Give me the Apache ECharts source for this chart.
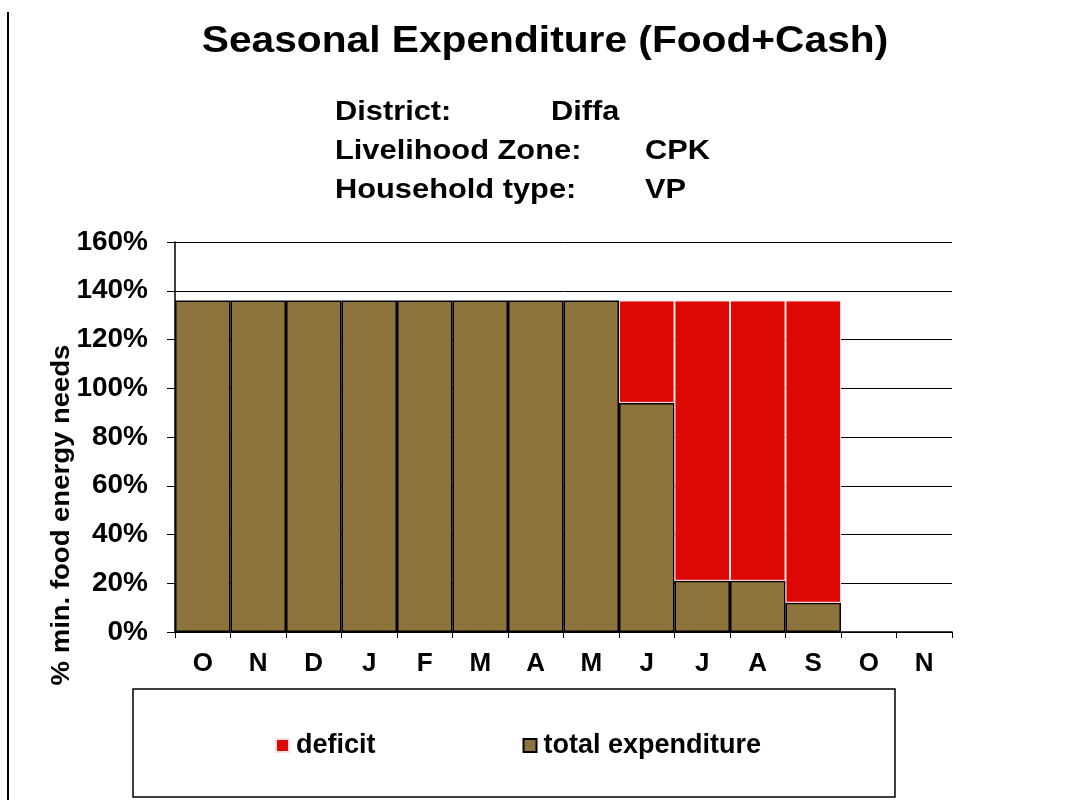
<!DOCTYPE html>
<html>
<head>
<meta charset="utf-8">
<script src="https://cdn.jsdelivr.net/npm/echarts@6/dist/echarts.min.js"></script>
<style>html,body{margin:0;padding:0;background:#fff}#c{width:1070px;height:800px}</style>
</head>
<body>
<div id="c"></div>
<script>
var months = ['O','N','D','J','F','M','A','M','J','J','A','S','O','N'];
var totalExpenditure = [136,136,136,136,136,136,136,136,94,21,21,12,null,null];
var deficit = [null,null,null,null,null,null,null,null,42,115,115,124,null,null];
var yTicks = [0,20,40,60,80,100,120,140,160];

var F = 'Liberation Sans, Arial, sans-serif';
var SX = 1.1;
function txt(x, y, s, size, align) {
  return {type: 'text', x: x, y: y, scaleX: SX, style: {text: s, fill: '#000',
    font: 'bold ' + size + 'px ' + F, textAlign: align || 'left', textVerticalAlign: 'middle'}};
}
var chart = echarts.init(document.getElementById('c'));
chart.setOption({
  backgroundColor: '#fff',
  animation: false,
  grid: {left: 175, right: 118, top: 242, bottom: 168},
  xAxis: {
    type: 'category', data: months,
    axisLine: {lineStyle: {color: '#000', width: 1.5}},
    axisTick: {show: true, length: 6, lineStyle: {color: '#000'}},
    axisLabel: {color: '#000', fontFamily: F, fontWeight: 'bold', fontSize: 26, margin: 19}
  },
  yAxis: {
    type: 'value', min: yTicks[0], max: yTicks[yTicks.length-1], interval: 20,
    axisLine: {show: true, lineStyle: {color: '#000', width: 1.5}},
    axisTick: {show: true, inside: false, length: 8, lineStyle: {color: '#000'}},
    splitLine: {show: true, lineStyle: {color: '#000', width: 1}},
    axisLabel: {color: '#000', fontFamily: F, fontWeight: 'bold', fontSize: 28, margin: 27,
      formatter: function(v){ return v + '%'; }}
  },
  legend: {
    data: ['deficit','total expenditure'],
    left: 275, top: 732, padding: 0, itemWidth: 13, itemHeight: 13, itemGap: 147,
    icon: 'rect',
    textStyle: {color: '#000', fontFamily: F, fontWeight: 'bold', fontSize: 27, padding: [0,0,0,2]}
  },
  series: [
    {name: 'total expenditure', type: 'bar', stack: 's', data: totalExpenditure,
     barCategoryGap: 0, barGap: 0,
     itemStyle: {color: '#8d733c', borderColor: '#000', borderWidth: 1.5}},
    {name: 'deficit', type: 'bar', stack: 's', data: deficit,
     itemStyle: {color: '#dd0806', borderColor: '#ffe0e0', borderWidth: 1}}
  ],
  graphic: [
    {type: 'line', shape: {x1: 8, y1: 12, x2: 8, y2: 800}, style: {stroke: '#000', lineWidth: 2}},
    txt(545, 42, 'Seasonal Expenditure (Food+Cash)', 37, 'center'),
    txt(335, 112, 'District:', 28),
    txt(551, 112, 'Diffa', 28),
    txt(335, 151, 'Livelihood Zone:', 28),
    txt(645, 151, 'CPK', 28),
    txt(335, 190, 'Household type:', 28),
    txt(645, 190, 'VP', 28),
    {type: 'text', x: 62, y: 515, rotation: Math.PI/2, scaleX: SX, style: {text: '% min. food energy needs', fill: '#000',
      font: 'bold 25px ' + F, textAlign: 'center', textVerticalAlign: 'middle'}},
    {type: 'rect', shape: {x: 133, y: 689, width: 762, height: 108}, style: {fill: 'none', stroke: '#000', lineWidth: 1.5}, z: -1}
  ]
});
</script>
</body>
</html>
